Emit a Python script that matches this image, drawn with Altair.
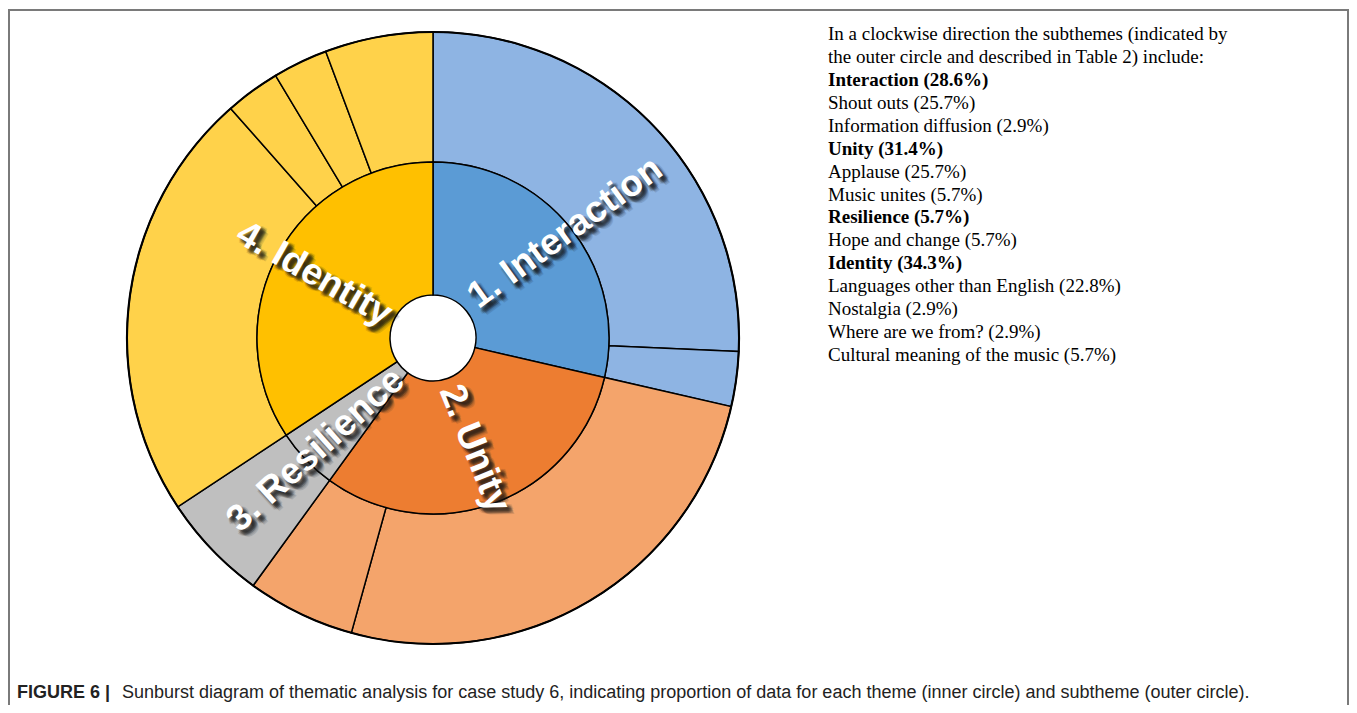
import math
from itertools import accumulate

import altair as alt
import pandas as pd

# ---------------- data ----------------
themes = ["1. Interaction", "2. Unity", "3. Resilience", "4. Identity"]
theme_pct = [28.6, 31.4, 5.7, 34.3]
theme_fill = ["#5B9BD5", "#ED7D31", "#BFBFBF", "#FFC000"]

sub_names = ["Shout outs", "Information diffusion", "Applause", "Music unites",
             "Hope and change", "Languages other than English", "Nostalgia",
             "Where are we from?", "Cultural meaning of the music"]
sub_pct = [25.7, 2.9, 25.7, 5.7, 5.7, 22.8, 2.9, 2.9, 5.7]
sub_theme = [0, 0, 1, 1, 2, 3, 3, 3, 3]
sub_fill_by_theme = ["#8EB4E3", "#F4A46B", "#BFBFBF", "#FFD24A"]

note_lines = [
    "In a clockwise direction the subthemes (indicated by",
    "the outer circle and described in Table 2) include:",
    "Interaction (28.6%)",
    "Shout outs (25.7%)",
    "Information diffusion (2.9%)",
    "Unity (31.4%)",
    "Applause (25.7%)",
    "Music unites (5.7%)",
    "Resilience (5.7%)",
    "Hope and change (5.7%)",
    "Identity (34.3%)",
    "Languages other than English (22.8%)",
    "Nostalgia (2.9%)",
    "Where are we from? (2.9%)",
    "Cultural meaning of the music (5.7%)",
]
note_bold = [0, 0, 1, 0, 0, 1, 0, 0, 1, 0, 1, 0, 0, 0, 0]

caption_bold = "FIGURE 6 |"
caption_text = ("Sunburst diagram of thematic analysis for case study 6, indicating proportion "
                "of data for each theme (inner circle) and subtheme (outer circle).")

# ---------------- tables ----------------
def ring(names, pcts, fills):
    ends = list(accumulate(pcts))
    starts = [0.0] + ends[:-1]
    return pd.DataFrame({
        "name": names, "start": starts, "end": ends,
        "mid": [(s + e) / 2 for s, e in zip(starts, ends)], "fill": fills,
    })

inner_df = ring(themes, theme_pct, theme_fill)
outer_df = ring(sub_names, sub_pct, [sub_fill_by_theme[t] for t in sub_theme])
note_df = pd.DataFrame({"line": note_lines, "bold": note_bold, "i": list(range(len(note_lines)))})
one = pd.DataFrame({"k": [0]})

# ---------------- layout ----------------
W, H = 1341, 697
CX, CY = 425, 330
R_HOLE, R_IN, R_OUT = 43, 176, 306
ts = alt.Scale(domain=[0, 100], range=[0, 2 * math.pi])

frame = alt.Chart(one).mark_rect(fill=None, stroke="#7a7a7a", strokeWidth=2).encode(
    x=alt.value(1), x2=alt.value(W - 1), y=alt.value(2), y2=alt.value(760)
)

outer = alt.Chart(outer_df).mark_arc(
    innerRadius=R_IN, outerRadius=R_OUT, stroke="black", strokeWidth=1.5
).encode(
    theta=alt.Theta("start:Q", scale=ts), theta2="end:Q",
    fill=alt.Fill("fill:N", scale=None), x=alt.value(CX), y=alt.value(CY),
)

inner = alt.Chart(inner_df).mark_arc(
    innerRadius=R_HOLE, outerRadius=R_IN, stroke="black", strokeWidth=1.5
).encode(
    theta=alt.Theta("start:Q", scale=ts), theta2="end:Q",
    fill=alt.Fill("fill:N", scale=None), x=alt.value(CX), y=alt.value(CY),
)

rim = alt.Chart(one).mark_arc(
    innerRadius=R_OUT - 1, outerRadius=R_OUT + 1, fill="black"
).encode(
    theta=alt.value(0), theta2=alt.value(2 * math.pi), x=alt.value(CX), y=alt.value(CY)
)

# label radius and rotation (style)
label_style = {
    "1. Interaction": (169, 324),
    "2. Unity": (118, 68),
    "3. Resilience": (162, 318),
    "4. Identity": (135, 30),
}
shadow_offsets = [(2, 2), (4, 4), (6, 6), (2, 6), (6, 2), (4, 2), (2, 4), (6, 4), (4, 6),
                  (3, 5), (5, 3), (5, 5), (7, 7), (3, 3)]

label_layers = []
for name in themes:
    r, ang = label_style[name]
    a = math.radians(ang)
    base = alt.Chart(inner_df).transform_filter(alt.datum.name == name)
    enc = dict(theta=alt.Theta("mid:Q", scale=ts), radius=alt.value(r),
               text="name:N", x=alt.value(CX), y=alt.value(CY))
    for sx, sy in shadow_offsets:
        dx = sx * math.cos(a) + sy * math.sin(a)
        dy = -sx * math.sin(a) + sy * math.cos(a)
        label_layers.append(base.mark_text(
            angle=ang, fontSize=37, font="Liberation Sans", fontWeight="bold",
            fill="#151515", opacity=0.12, align="center", baseline="middle", dx=dx, dy=dy,
        ).encode(**enc))
    label_layers.append(base.mark_text(
        angle=ang, fontSize=37, font="Liberation Sans", fontWeight="bold",
        fill="white", align="center", baseline="middle",
    ).encode(**enc))

ny = alt.Y("i:Q", scale=alt.Scale(domain=[0, len(note_lines) - 1], range=[26, 347]), axis=None)
notes_normal = alt.Chart(note_df).transform_filter("datum.bold == 0").mark_text(
    align="left", baseline="middle", font="Liberation Serif", fontSize=19, color="black"
).encode(x=alt.value(820), y=ny, text="line:N")
notes_bold = alt.Chart(note_df).transform_filter("datum.bold == 1").mark_text(
    align="left", baseline="middle", font="Liberation Serif", fontSize=19,
    fontWeight="bold", color="black"
).encode(x=alt.value(820), y=ny, text="line:N")

cap1 = alt.Chart(one).mark_text(
    text=caption_bold, align="left", baseline="middle", font="Liberation Sans",
    fontSize=18, fontWeight="bold", color="#222222"
).encode(x=alt.value(9), y=alt.value(685))
cap2 = alt.Chart(one).mark_text(
    text=caption_text, align="left", baseline="middle", font="Liberation Sans",
    fontSize=18, color="#222222"
).encode(x=alt.value(114), y=alt.value(685))

chart = alt.layer(
    frame, outer, inner, rim, *label_layers, notes_normal, notes_bold, cap1, cap2
).properties(
    width=W, height=H, padding=0,
    autosize=alt.AutoSizeParams(type="none"),
    background="white",
).configure_view(stroke=None)

chart.save("out.html", embed_options={"renderer": "svg", "actions": False})
